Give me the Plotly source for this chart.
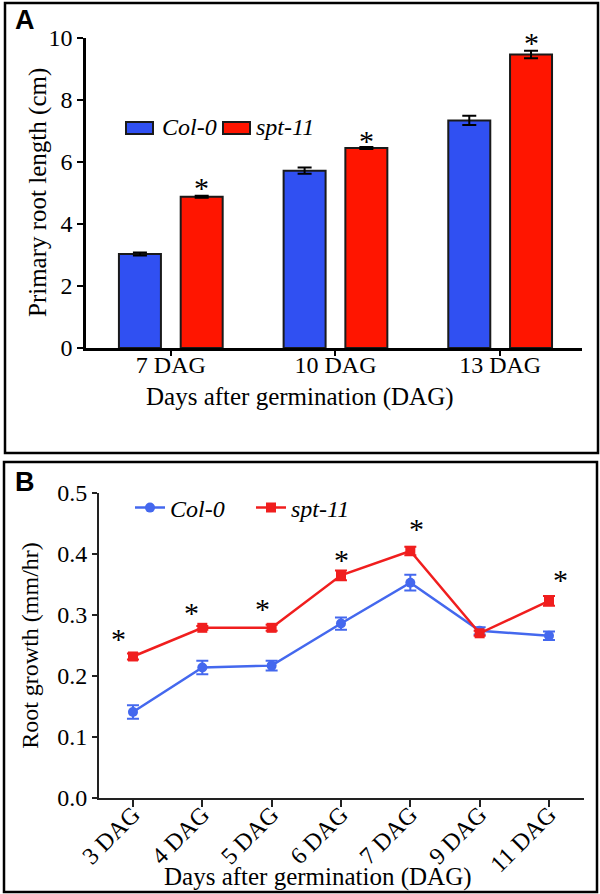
import plotly.graph_objects as go

# ---------------- data ----------------
days_a = ["7 DAG", "10 DAG", "13 DAG"]
col0_len = [3.03, 5.72, 7.34]
col0_len_err = [0.05, 0.10, 0.15]
spt_len = [4.88, 6.45, 9.47]
spt_len_err = [0.03, 0.03, 0.12]
star_a = [5.35, 6.87, 10.0]

days_b = ["3 DAG", "4 DAG", "5 DAG", "6 DAG", "7 DAG", "9 DAG", "11 DAG"]
col0_growth = [0.141, 0.214, 0.217, 0.286, 0.353, 0.274, 0.266]
col0_growth_err = [0.011, 0.011, 0.008, 0.010, 0.013, 0.006, 0.007]
spt_growth = [0.232, 0.279, 0.279, 0.365, 0.405, 0.270, 0.323]
spt_growth_err = [0.005, 0.003, 0.005, 0.008, 0.007, 0.004, 0.008]
star_b = [0.27, 0.312, 0.319, 0.399, 0.45, None, 0.366]

x_title = "Days after germination (DAG)"
y_title_a = "Primary root length (cm)"
y_title_b = "Root growth (mm/hr)"

# ---------------- style ----------------
W, H = 600, 894
SERIF = "Liberation Serif"
SANS = "Liberation Sans"
BLUE_BAR = "#3050F2"
RED_BAR = "#FF1500"
BLUE_LINE = "#4468EE"
RED_LINE = "#F01E1E"
star_dx_b = [-14, -11, -9, 1, 6, 0, 12]
BARGAP = 0.25
BARGROUPGAP = 0.32


def px(x):
    return x / W


def py(y):
    return 1 - y / H


fig = go.Figure()

# Panel A bars
fig.add_trace(go.Bar(
    x=days_a, y=col0_len, name="Col-0",
    error_y=dict(type="data", array=col0_len_err, color="black", thickness=2, width=7),
    marker=dict(color=BLUE_BAR, line=dict(color="#1a1a1a", width=2)),
    showlegend=False, xaxis="x", yaxis="y"))
fig.add_trace(go.Bar(
    x=days_a, y=spt_len, name="spt-11",
    error_y=dict(type="data", array=spt_len_err, color="black", thickness=2, width=7),
    marker=dict(color=RED_BAR, line=dict(color="#1a1a1a", width=2)),
    showlegend=False, xaxis="x", yaxis="y"))

# Panel B lines
fig.add_trace(go.Scatter(
    x=days_b, y=col0_growth, name="Col-0", mode="lines+markers",
    line=dict(color=BLUE_LINE, width=2.5),
    marker=dict(symbol="circle", size=10, color=BLUE_LINE),
    error_y=dict(type="data", array=col0_growth_err, color=BLUE_LINE, thickness=2, width=6),
    xaxis="x2", yaxis="y2", legend="legend2"))
fig.add_trace(go.Scatter(
    x=days_b, y=spt_growth, name="spt-11", mode="lines+markers",
    line=dict(color=RED_LINE, width=2.5),
    marker=dict(symbol="square", size=10, color=RED_LINE),
    error_y=dict(type="data", array=spt_growth_err, color=RED_LINE, thickness=2, width=6),
    xaxis="x2", yaxis="y2", legend="legend2"))

annotations = []
star_font = dict(family=SERIF, size=30, color="black")
# stars panel A (above the spt-11 bars)
bar_off = (1 - BARGAP) / 4
for i, s in enumerate(star_a):
    annotations.append(dict(x=i + bar_off, y=s, xref="x", yref="y", text="*",
                            showarrow=False, font=star_font, yanchor="middle", yshift=-5))
for i, s in enumerate(star_b):
    if s is None:
        continue
    annotations.append(dict(x=i, y=s, xref="x2", yref="y2", text="*",
                            showarrow=False, font=star_font,
                            xshift=star_dx_b[i], yanchor="middle", yshift=-5))

# panel letters
letter_font = dict(family=SANS, size=27, color="black")
annotations.append(dict(x=px(25), y=py(20), xref="paper", yref="paper", text="<b>A</b>",
                        xanchor="center", yanchor="middle", showarrow=False, font=letter_font))
annotations.append(dict(x=px(25), y=py(482), xref="paper", yref="paper", text="<b>B</b>",
                        xanchor="center", yanchor="middle", showarrow=False, font=letter_font))

# x-axis titles (slightly left of axis centre, as in the original)
title_font = dict(family=SERIF, size=24, color="black")
annotations.append(dict(x=px(300), y=py(397), xref="paper", yref="paper", text=x_title,
                        xanchor="center", yanchor="middle", showarrow=False,
                        font=dict(family=SERIF, size=25, color="black")))
annotations.append(dict(x=px(318), y=py(877), xref="paper", yref="paper", text=x_title,
                        xanchor="center", yanchor="middle", showarrow=False,
                        font=dict(family=SERIF, size=25, color="black")))
# y-axis title panel A
annotations.append(dict(x=px(38), y=py(193), xref="paper", yref="paper", text=y_title_a,
                        textangle=-90, xanchor="center", yanchor="middle", showarrow=False,
                        font=dict(family=SERIF, size=25, color="black")))

# manual legend for panel A
leg_font = dict(family=SERIF, size=24, color="black", style="italic")
annotations.append(dict(x=px(160), y=py(127), xref="paper", yref="paper", text="Col-0",
                        xanchor="left", yanchor="middle", showarrow=False, font=leg_font))
annotations.append(dict(x=px(254), y=py(127), xref="paper", yref="paper", text="spt-11",
                        xanchor="left", yanchor="middle", showarrow=False, font=leg_font))

shapes = [
    dict(type="rect", xref="paper", yref="paper", x0=px(126), x1=px(153), y0=py(134), y1=py(122),
         fillcolor=BLUE_BAR, line=dict(color="#1a1a1a", width=2)),
    dict(type="rect", xref="paper", yref="paper", x0=px(223), x1=px(250), y0=py(134), y1=py(122),
         fillcolor=RED_BAR, line=dict(color="#1a1a1a", width=2)),
    # panel frames
    dict(type="rect", xref="paper", yref="paper", x0=px(5), x1=px(598), y0=py(453), y1=py(3),
         line=dict(color="black", width=2.5)),
    dict(type="rect", xref="paper", yref="paper", x0=px(4), x1=px(597), y0=py(892), y1=py(462),
         line=dict(color="black", width=2.5)),
]

tick_font = dict(family=SERIF, size=24, color="black")

fig.update_layout(
    width=W, height=H, margin=dict(l=0, r=0, t=0, b=0, autoexpand=False),
    paper_bgcolor="white", plot_bgcolor="white",
    barmode="group", bargap=BARGAP, bargroupgap=BARGROUPGAP,
    annotations=annotations, shapes=shapes,
    xaxis=dict(domain=[px(86), px(582)], anchor="y", range=[-0.515, 2.497], automargin=False,
               showline=True, linecolor="black", linewidth=3, ticks="outside", ticklen=5,
               tickwidth=2, tickcolor="black", tickfont=tick_font, ticklabelstandoff=-12,
               showgrid=False, zeroline=False),
    yaxis=dict(domain=[py(348), py(38)], anchor="x", range=[0, 10], dtick=2, automargin=False,
               showline=True, linecolor="black", linewidth=2.5, ticks="outside", ticklen=6,
               tickwidth=2, tickcolor="black", tickfont=tick_font, showgrid=False, zeroline=False),
    xaxis2=dict(domain=[px(99), px(584)], anchor="y2", range=[-0.49, 6.505], automargin=False,
                showline=True, linecolor="#222", linewidth=2, ticks="outside", ticklen=7,
                tickwidth=2, tickcolor="#222", tickfont=tick_font, tickangle=-45,
                ticklabelstandoff=-16, showgrid=False, zeroline=False),
    yaxis2=dict(domain=[py(798), py(493)], anchor="x2", range=[0, 0.5], dtick=0.1, automargin=False,
                tickformat=".1f", showline=True, linecolor="#222", linewidth=2,
                ticks="outside", ticklen=5, tickwidth=2, tickcolor="#222", tickfont=tick_font,
                showgrid=False, zeroline=False,
                title=dict(text=y_title_b, font=title_font, standoff=12)),
    legend2=dict(orientation="h", x=px(130), y=py(508), xanchor="left", yanchor="middle",
                 font=leg_font, bgcolor="rgba(0,0,0,0)", itemwidth=30,
                 entrywidth=76, entrywidthmode="pixels"),
)

fig.write_html("out.html", config={"displayModeBar": False},
               post_script="document.body.style.margin='0';document.body.style.overflow='hidden';")
